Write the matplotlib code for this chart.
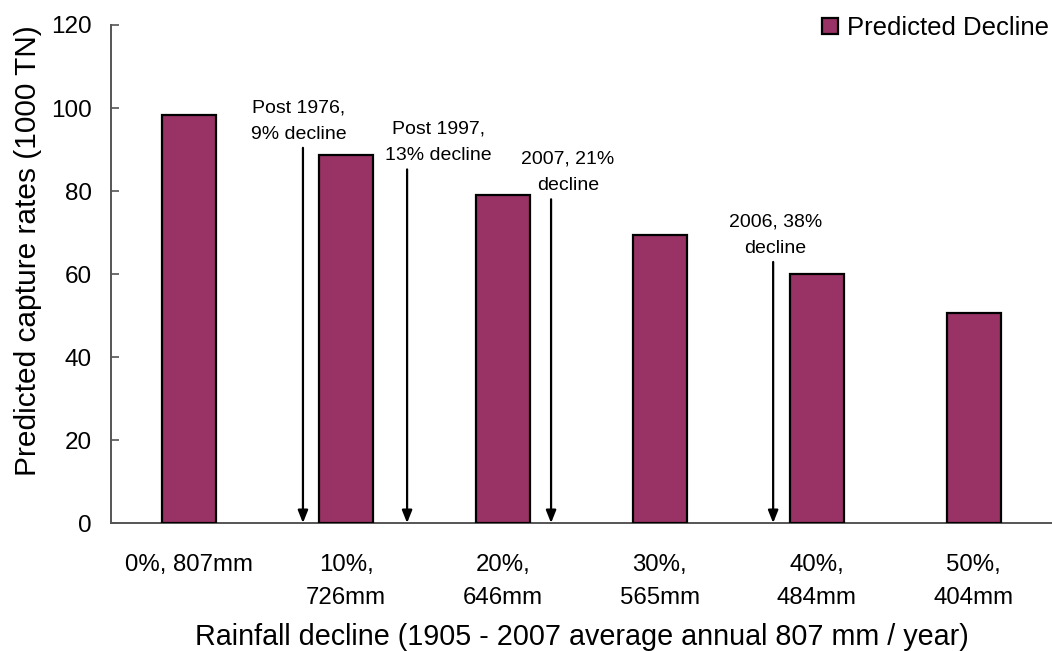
import matplotlib.pyplot as plt
import numpy as np

plt.rcParams['font.family'] = ['Liberation Sans', 'DejaVu Sans']

# rainfall scenarios and predicted capture
categories = ['0%, 807mm', '10%,\n726mm', '20%,\n646mm', '30%,\n565mm', '40%,\n484mm', '50%,\n404mm']
capture = [98.3, 88.7, 79.0, 69.4, 59.9, 50.7]

# observed declines marked with arrows (x on category axis, value at arrow top)
event_labels = ['Post 1976,\n9% decline', 'Post 1997,\n13% decline', '2007, 21%\ndecline', '2006, 38%\ndecline']
event_x = [0.724, 1.388, 2.306, 3.722]
event_top = [90.4, 85.2, 78.0, 62.9]
label_dx = [-4, 31, 17, 2]  # pixel shift of each label from its arrow

fig = plt.figure(figsize=(10.52, 6.51), dpi=100)
ax = fig.add_axes([0.1055, 0.1966, 0.8945, 0.765])

x = np.arange(len(categories))
ax.bar(x, capture, width=0.345, color='#993366', edgecolor='black', linewidth=1.6,
       label='Predicted Decline', zorder=3)

#arrows + labels
for lab, ex, top, dx in zip(event_labels, event_x, event_top, label_dx):
    ax.annotate('', xy=(ex, 0), xytext=(ex, top),
                arrowprops=dict(arrowstyle='-|>,head_length=0.75,head_width=0.3',
                                color='black', lw=1.6, shrinkA=0, shrinkB=0))
    ax.annotate(lab, xy=(ex, top), xytext=(dx, 5), textcoords='offset pixels',
                ha='center', va='bottom', fontsize=14, linespacing=1.75)

ax.set_xlim(-0.5, 5.5)
ax.set_ylim(0, 120)
ax.set_yticks(range(0, 121, 20))
ax.set_xticks(x)
ax.set_xticklabels(categories, fontsize=17.3, linespacing=1.7, va='top')
ax.tick_params(axis='x', length=0, pad=22)
ax.tick_params(axis='y', labelsize=17.5, length=6, direction='in', width=1.2, color='#555555', pad=14)

for s in ['top', 'right']:
    ax.spines[s].set_visible(False)
for s in ['left', 'bottom']:
    ax.spines[s].set_color('#555555')
    ax.spines[s].set_linewidth(1.4)

ax.set_ylabel('Predicted capture rates (1000 TN)', fontsize=21.5)
ax.yaxis.set_label_coords(-0.073, 0.546)
ax.set_xlabel('Rainfall decline (1905 - 2007 average annual 807 mm / year)', fontsize=20.7)
ax.xaxis.set_label_coords(0.5, -0.2)

ax.legend(loc='center right', bbox_to_anchor=(0.9965, 0.994), frameon=False, fontsize=18.5,
          handlelength=0.6, handleheight=0.6, handletextpad=0.35, borderaxespad=0, borderpad=0)

fig.savefig('out.png', dpi=100)
